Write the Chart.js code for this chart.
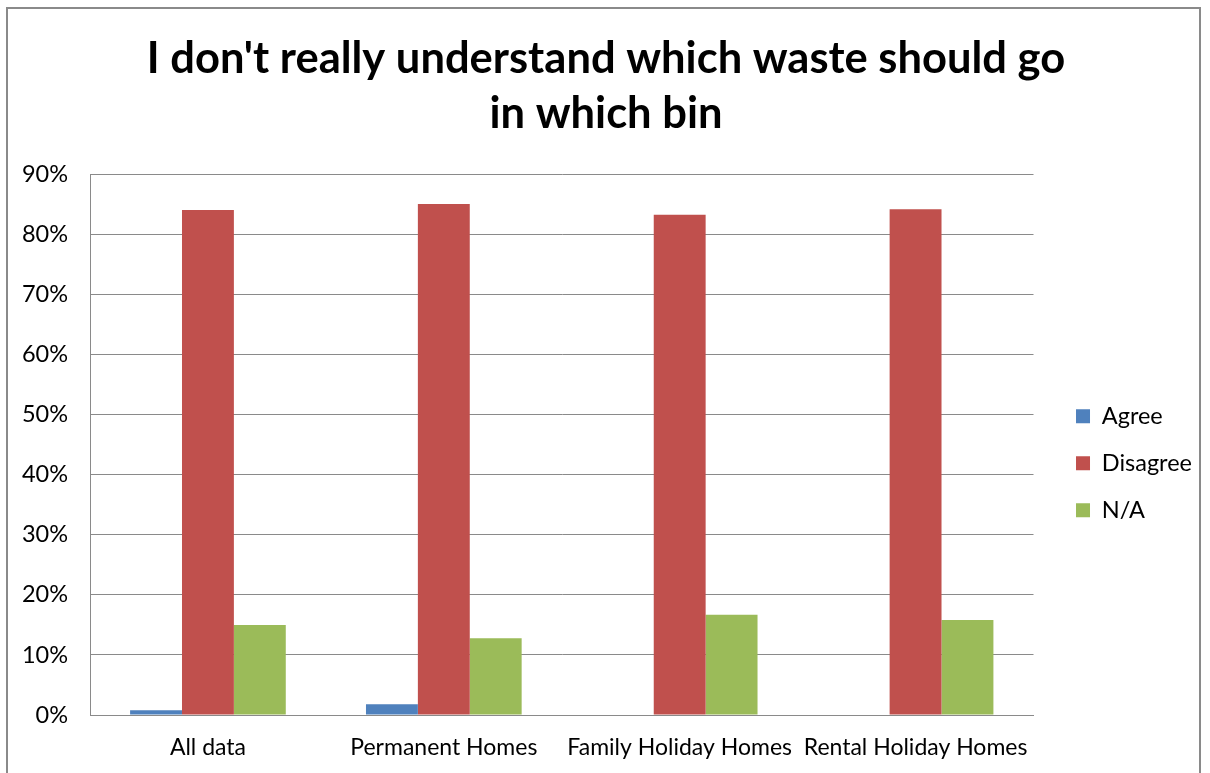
<!DOCTYPE html>
<html>
<head>
<meta charset="utf-8">
<script src="https://cdn.jsdelivr.net/npm/chart.js@4/dist/chart.umd.min.js"></script>
<style>
  html, body { margin: 0; padding: 0; background: #fff; }
  #wrap { position: relative; width: 1210px; height: 773px; }
</style>
</head>
<body>
<div id="wrap"><canvas id="chart"></canvas></div>
<script>
const categories = ["All data", "Permanent Homes", "Family Holiday Homes", "Rental Holiday Homes"];
const agree = [0.8, 1.8, 0, 0];
const disagree = [84.1, 85.1, 83.3, 84.2];
const notApplicable = [15.0, 12.8, 16.7, 15.8];
const yTicks = [0, 10, 20, 30, 40, 50, 60, 70, 80, 90];

const font = "Lato, 'Open Sans', sans-serif";

// grey frame round the whole chart, like the spreadsheet export
const framePlugin = {
    id: "frame",
    beforeDraw(chart) {
        const c = chart.ctx;
        c.save();
        c.fillStyle = "#fff";
        c.fillRect(0, 0, chart.width, chart.height);
        c.strokeStyle = "#8a8a8a";
        c.lineWidth = 2;
        c.strokeRect(7, 8, 1193, 800);
        c.restore();
    }
};

const ctx = document.getElementById("chart");
new Chart(ctx, {
    type: "bar",
    data: {
        labels: categories,
        datasets: [
            { label: "Agree", data: agree, backgroundColor: "#4f81bd" },
            { label: "Disagree", data: disagree, backgroundColor: "#c0504d" },
            { label: "N/A", data: notApplicable, backgroundColor: "#9bbb59" }
        ]
    },
    options: {
        responsive: true,
        maintainAspectRatio: false,
        animation: false,
        layout: { padding: { left: 10, right: 8, top: 0, bottom: 12 } },
        datasets: {
            bar: { categoryPercentage: 0.66, barPercentage: 1 }
        },
        plugins: {
            title: {
                display: true,
                text: ["I don't really understand which waste should go", "in which bin"],
                color: "#000",
                font: { family: font, size: 43.5, weight: "bold", lineHeight: 1.27 },
                padding: { top: 31, bottom: 33 }
            },
            legend: {
                position: "right",
                fullSize: false,
                title: { display: true, text: " ", font: { size: 11 }, padding: 12 },
                labels: {
                    color: "#000",
                    boxWidth: 14,
                    boxHeight: 14,
                    padding: 23.5,
                    font: { family: font, size: 23.5 }
                }
            },
            tooltip: { enabled: false }
        },
        scales: {
            x: {
                afterFit(scale) { scale.height = 46; },
                grid: { display: false, drawTicks: false },
                border: { color: "#8a8a8a", width: 1 },
                ticks: { color: "#000", padding: 19, font: { family: font, size: 23 } }
            },
            y: {
                min: 0,
                max: 90,
                afterFit(scale) { scale.width = 80; },
                afterBuildTicks(scale) { scale.ticks = yTicks.map(v => ({ value: v })); },
                grid: { color: "#8a8a8a", drawTicks: false },
                border: { color: "#8a8a8a", width: 1 },
                ticks: {
                    color: "#000",
                    padding: 22,
                    font: { family: font, size: 23.5 },
                    callback: v => v + "%"
                }
            },
            gap: {
                position: "right",
                afterFit(scale) { scale.width = 19; },
                grid: { display: false },
                border: { display: false },
                ticks: { display: false }
            }
        }
    },
    plugins: [framePlugin]
});
</script>
</body>
</html>
